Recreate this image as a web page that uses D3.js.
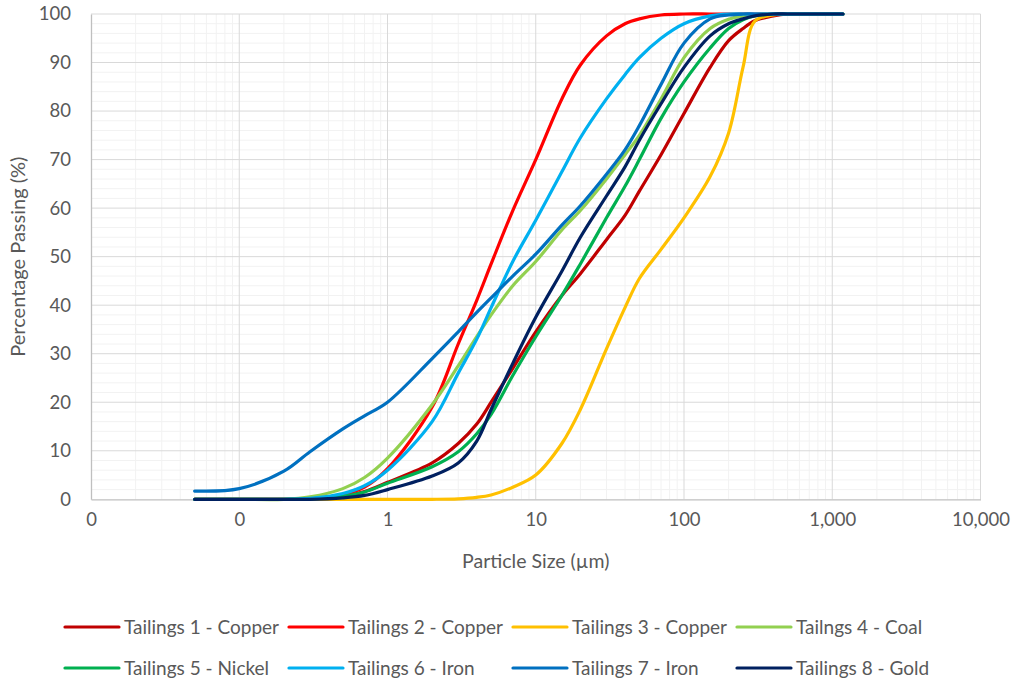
<!DOCTYPE html>
<html>
<head>
<meta charset="utf-8">
<script src="https://cdn.jsdelivr.net/npm/d3@7"></script>
<style>
  body { margin: 0; background: #fff; }
  text { font-family: Lato, "Open Sans", sans-serif; fill: #595959; }
</style>
</head>
<body>
<svg class="psd-chart" width="1013" height="684"></svg>
<script>
// Particle sizes (µm) the curves were read at
const sizes = [0.05, 0.1, 0.2, 0.3, 0.5, 0.7, 1, 2, 3, 4, 5, 7, 10, 15, 20, 30, 40, 50, 70, 100, 150, 200, 250, 300, 400, 500, 700, 1000, 1180];

// Percentage passing for each tailings sample
const tailings1 = [0, 0, 0, 0.1, 0.6, 1.6, 3.5, 7.5, 11.5, 15.5, 20, 27, 34.5, 42, 46.5, 53.5, 58.5, 63.5, 71, 79.5, 89, 94.5, 97, 98.6, 99.6, 100, 100, 100, 100];
const tailings2 = [0, 0, 0, 0.2, 1, 2.5, 6.3, 19, 32, 41, 48.5, 59.5, 70, 82.5, 89.5, 95.5, 98, 99, 99.8, 100, 100, 100, 100, 100, 100, 100, 100, 100, 100];
const tailings3 = [0, 0, 0, 0, 0, 0, 0, 0, 0.1, 0.4, 0.9, 2.5, 5, 11.5, 18.5, 31, 39.5, 45.5, 51.5, 58, 66.5, 75.5, 89, 98.5, 99.8, 100, 100, 100, 100];
const tailings4 = [0, 0, 0, 0.5, 2.2, 4.5, 8.5, 19.5, 27.5, 33.5, 38, 44, 49, 55.5, 59.5, 66, 71, 75, 82.5, 91, 97, 98.9, 99.6, 99.9, 100, 100, 100, 100, 100];
const tailings5 = [0, 0, 0, 0.1, 0.6, 1.5, 3.3, 6.7, 9.8, 13.5, 17.5, 25.5, 33.5, 42, 48.5, 58, 64.5, 70, 78.5, 86, 93, 97, 98.8, 99.6, 100, 100, 100, 100, 100];
const tailings6 = [0, 0, 0, 0.2, 1.2, 2.8, 6, 16, 26, 33, 39.5, 49, 57.5, 67.5, 74.5, 82.5, 87.5, 91, 95, 98, 99.6, 100, 100, 100, 100, 100, 100, 100, 100];
const tailings7 = [1.7, 2.2, 5.8, 9.8, 14.5, 17.2, 20, 29, 34.5, 38.5, 41.5, 46, 50.5, 56.5, 60.5, 67, 72, 77, 85.5, 94, 99, 99.8, 100, 100, 100, 100, 100, 100, 100];
const tailings8 = [0, 0, 0, 0, 0.3, 0.8, 2, 4.8, 7.5, 12, 18.5, 28, 37.5, 47, 54, 62.5, 68.5, 74, 81.5, 89, 95.5, 98, 99, 99.6, 100, 100, 100, 100, 100];

const seriesNames = ['Tailings 1 - Copper', 'Tailings 2 - Copper', 'Tailings 3 - Copper', 'Tailngs 4 - Coal',
    'Tailings 5 - Nickel', 'Tailings 6 - Iron', 'Tailings 7 - Iron', 'Tailings 8 - Gold'];
const seriesColors = ['#C00000', '#FF0000', '#FFC000', '#92D050', '#00B050', '#00B0F0', '#0070C0', '#002060'];
const seriesValues = [tailings1, tailings2, tailings3, tailings4, tailings5, tailings6, tailings7, tailings8];

// Axis ticks
const xTickValues = [0.01, 0.1, 1, 10, 100, 1000, 10000];
const yTickValues = [0, 10, 20, 30, 40, 50, 60, 70, 80, 90, 100];

/*  ==============
    CONFIG
    ============== */
const svg = d3.select('.psd-chart');
const plot = { left: 91, right: 980.5, top: 14, bottom: 499.3 };

const xScale = d3.scaleLog()
    .domain([0.01, 10000])
    .range([plot.left, plot.right]);
const yScale = d3.scaleLinear()
    .domain([0, 100])
    .range([plot.bottom, plot.top]);

/*  Gridlines */
// minor x lines at 2..9 of every decade
const xMinor = [];
xTickValues.slice(0, -1).forEach((d) => {
    for (let k = 2; k <= 9; k++) xMinor.push(d * k);
});
const yMinor = d3.range(0, 101, 2).filter((v) => v % 10 !== 0);

const grid = svg.append('g').attr('class', 'grid');
grid.selectAll('.x-minor').data(xMinor).enter().append('line')
    .attr('x1', (d) => xScale(d)).attr('x2', (d) => xScale(d))
    .attr('y1', plot.top).attr('y2', plot.bottom)
    .attr('stroke', '#f2f2f2').attr('stroke-width', 1);
grid.selectAll('.y-minor').data(yMinor).enter().append('line')
    .attr('x1', plot.left).attr('x2', plot.right)
    .attr('y1', (d) => yScale(d)).attr('y2', (d) => yScale(d))
    .attr('stroke', '#f2f2f2').attr('stroke-width', 1);
grid.selectAll('.x-major').data(xTickValues.slice(1)).enter().append('line')
    .attr('x1', (d) => xScale(d)).attr('x2', (d) => xScale(d))
    .attr('y1', plot.top).attr('y2', plot.bottom)
    .attr('stroke', '#d9d9d9').attr('stroke-width', 1);
grid.selectAll('.y-major').data(yTickValues.slice(1)).enter().append('line')
    .attr('x1', plot.left).attr('x2', plot.right)
    .attr('y1', (d) => yScale(d)).attr('y2', (d) => yScale(d))
    .attr('stroke', '#d9d9d9').attr('stroke-width', 1);

/*  Axes */
const yAxis = svg.append('g')
    .attr('class', 'y-axis')
    .attr('transform', `translate(${plot.left},0)`)
    .call(d3.axisLeft(yScale).tickValues(yTickValues).tickSize(0).tickPadding(20));
const xAxis = svg.append('g')
    .attr('class', 'x-axis')
    .attr('transform', `translate(0,${plot.bottom})`)
    .call(d3.axisBottom(xScale).tickValues(xTickValues).tickSize(0).tickPadding(14)
        .tickFormat(d3.format(',.0f')));

[yAxis, xAxis].forEach((ax) => {
    ax.select('.domain').attr('stroke', '#bfbfbf').attr('stroke-width', 1.3);
    ax.selectAll('text')
        .attr('font-size', 18.5)
        .attr('fill', '#595959')
        .style('font-family', 'Lato, sans-serif');
});

// Axis titles
svg.append('text')
    .attr('x', (plot.left + plot.right) / 2)
    .attr('y', 568)
    .attr('text-anchor', 'middle')
    .attr('font-size', 19.5)
    .text('Particle Size (µm)');
svg.append('text')
    .attr('transform', `translate(25,${(plot.top + plot.bottom) / 2}) rotate(-90)`)
    .attr('text-anchor', 'middle')
    .attr('font-size', 20)
    .text('Percentage Passing (%)');

/*  Series lines */
const line = d3.line()
    .x((d) => xScale(d[0]))
    .y((d) => yScale(d[1]))
    .curve(d3.curveCatmullRom.alpha(0.5));

svg.append('g').attr('class', 'series')
    .selectAll('path')
    .data(seriesValues)
    .enter()
    .append('path')
    .attr('fill', 'none')
    .attr('stroke', (d, i) => seriesColors[i])
    .attr('stroke-width', 3.2)
    .attr('stroke-linecap', 'round')
    .attr('stroke-linejoin', 'round')
    .attr('d', (vals) => line(sizes.map((s, j) => [s, vals[j]])));

/*  Legend */
const legendConfig = { left: 65, colWidth: 224, rowTop: 627, rowGap: 41, sample: 54, gap: 5 };
const legend = svg.append('g').attr('class', 'legend')
    .selectAll('g')
    .data(seriesNames)
    .enter()
    .append('g')
    .attr('transform', (d, i) =>
        `translate(${legendConfig.left + (i % 4) * legendConfig.colWidth},${legendConfig.rowTop + Math.floor(i / 4) * legendConfig.rowGap})`);

legend.append('line')
    .attr('x1', 0).attr('x2', legendConfig.sample)
    .attr('y1', 0).attr('y2', 0)
    .attr('stroke', (d, i) => seriesColors[i])
    .attr('stroke-width', 3.2)
    .attr('stroke-linecap', 'round');

legend.append('text')
    .attr('x', legendConfig.sample + legendConfig.gap)
    .attr('dy', '0.35em')
    .attr('font-size', 19)
    .text((d) => d);
</script>
</body>
</html>
